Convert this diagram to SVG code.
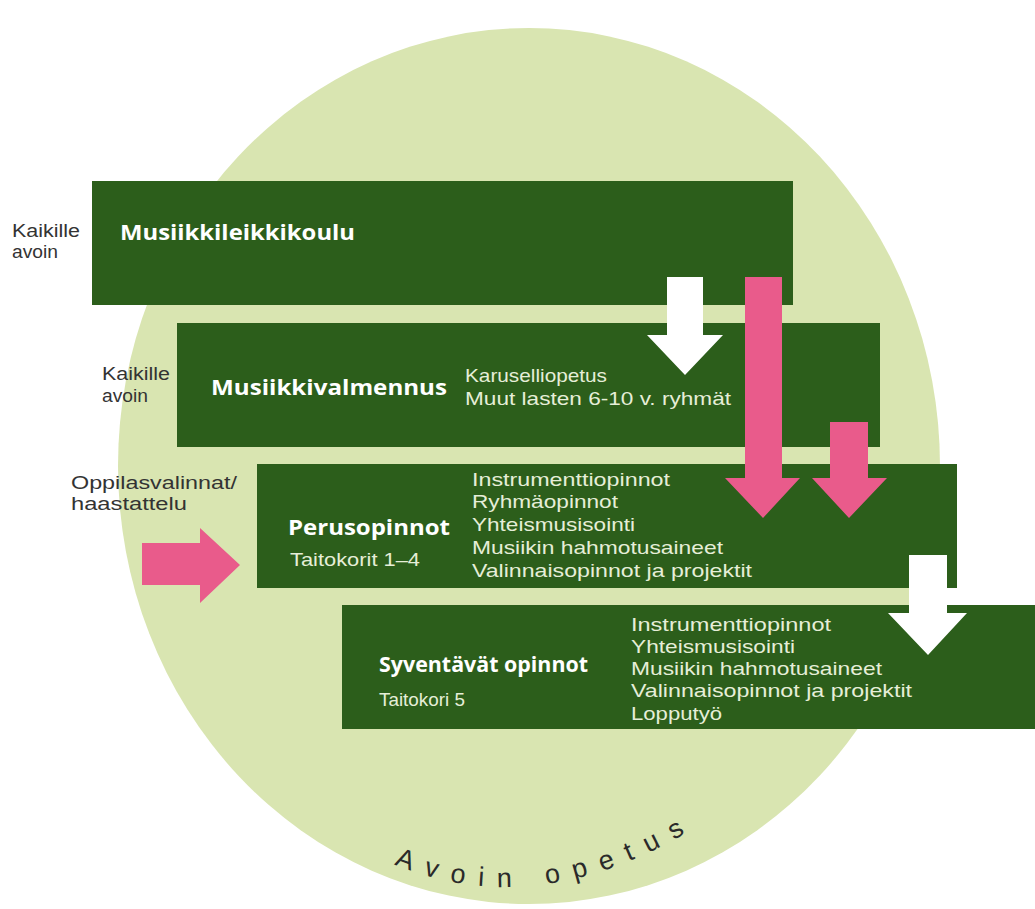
<svg xmlns="http://www.w3.org/2000/svg" width="1035" height="909" viewBox="0 0 1035 909">
<style>
.box{fill:#2c5e1b}
.title{font-family:"Open Sans","Liberation Sans",sans-serif;font-weight:700;font-size:21.5px;fill:#ffffff}
.item{font-family:"Liberation Sans",Arial,sans-serif;font-size:19px;fill:#e6eed8}
.lbl{font-family:"Liberation Sans",Arial,sans-serif;font-size:17.5px;fill:#333333}
.pink{fill:#e95b8b}
.white{fill:#ffffff}
.circ{font-family:"Liberation Sans",sans-serif;font-size:27px;fill:#2a2a2a;letter-spacing:13.5px}
</style>
<defs>
<path id="arc" d="M 385 860 Q 545 934 730 805" fill="none"/>
</defs>
<rect width="1035" height="909" fill="#ffffff"/>
<ellipse id="open" cx="529" cy="466" rx="411" ry="438" fill="#d9e5b1"/>
<text class="circ"><textPath href="#arc" startOffset="10">Avoin opetus</textPath></text>

<g id="musiikkileikkikoulu">
<rect class="box" x="92" y="181" width="701" height="124"/>
<text class="title" x="120" y="240" textLength="235" lengthAdjust="spacingAndGlyphs">Musiikkileikkikoulu</text>
<text class="lbl" x="12" y="237" textLength="68" lengthAdjust="spacingAndGlyphs">Kaikille</text>
<text class="lbl" x="12" y="258" textLength="46" lengthAdjust="spacingAndGlyphs">avoin</text>
</g>

<g id="musiikkivalmennus">
<rect class="box" x="177" y="323" width="703" height="124"/>
<text class="title" x="211" y="395" textLength="236" lengthAdjust="spacingAndGlyphs">Musiikkivalmennus</text>
<text class="item" x="465" y="382" textLength="142" lengthAdjust="spacingAndGlyphs">Karuselliopetus</text>
<text class="item" x="465" y="405" textLength="266" lengthAdjust="spacingAndGlyphs">Muut lasten 6-10 v. ryhmät</text>
<text class="lbl" x="102" y="380" textLength="68" lengthAdjust="spacingAndGlyphs">Kaikille</text>
<text class="lbl" x="102" y="402" textLength="46" lengthAdjust="spacingAndGlyphs">avoin</text>
</g>

<g id="perusopinnot">
<rect class="box" x="257" y="464" width="700" height="124"/>
<text class="title" x="288" y="535" textLength="162" lengthAdjust="spacingAndGlyphs">Perusopinnot</text>
<text class="item" x="290" y="566" textLength="130" lengthAdjust="spacingAndGlyphs">Taitokorit 1–4</text>
<text class="item" x="472" y="486" textLength="198" lengthAdjust="spacingAndGlyphs">Instrumenttiopinnot</text>
<text class="item" x="472" y="508" textLength="146" lengthAdjust="spacingAndGlyphs">Ryhmäopinnot</text>
<text class="item" x="472" y="531" textLength="163" lengthAdjust="spacingAndGlyphs">Yhteismusisointi</text>
<text class="item" x="472" y="554" textLength="251" lengthAdjust="spacingAndGlyphs">Musiikin hahmotusaineet</text>
<text class="item" x="472" y="577" textLength="280" lengthAdjust="spacingAndGlyphs">Valinnaisopinnot ja projektit</text>
<text class="lbl" x="71" y="489" textLength="166" lengthAdjust="spacingAndGlyphs">Oppilasvalinnat/</text>
<text class="lbl" x="71" y="510" textLength="116" lengthAdjust="spacingAndGlyphs">haastattelu</text>
</g>

<g id="syventavat">
<rect class="box" x="342" y="605" width="693" height="124"/>
<text class="title" x="379" y="672" textLength="209" lengthAdjust="spacingAndGlyphs">Syventävät opinnot</text>
<text class="item" x="379" y="706" textLength="86" lengthAdjust="spacingAndGlyphs">Taitokori 5</text>
<text class="item" x="631" y="631" textLength="200" lengthAdjust="spacingAndGlyphs">Instrumenttiopinnot</text>
<text class="item" x="631" y="653" textLength="164" lengthAdjust="spacingAndGlyphs">Yhteismusisointi</text>
<text class="item" x="631" y="675" textLength="251" lengthAdjust="spacingAndGlyphs">Musiikin hahmotusaineet</text>
<text class="item" x="631" y="697" textLength="281" lengthAdjust="spacingAndGlyphs">Valinnaisopinnot ja projektit</text>
<text class="item" x="631" y="720" textLength="91" lengthAdjust="spacingAndGlyphs">Lopputyö</text>
</g>

<g id="connectors">
<polygon class="white" points="667,277 703,277 703,335 723,335 685,375 647,335 667,335"/>
<polygon class="pink" points="745,277 782,277 782,478 800,478 763,518 725,478 745,478"/>
<polygon class="pink" points="830,422 868,422 868,478 887,478 849,518 812,478 830,478"/>
<polygon class="pink" points="142,543 200,543 200,528 240,565 200,603 200,585 142,585"/>
<polygon class="white" points="909,555 947,555 947,613 967,613 928,655 888,613 909,613"/>
</g>
</svg>
